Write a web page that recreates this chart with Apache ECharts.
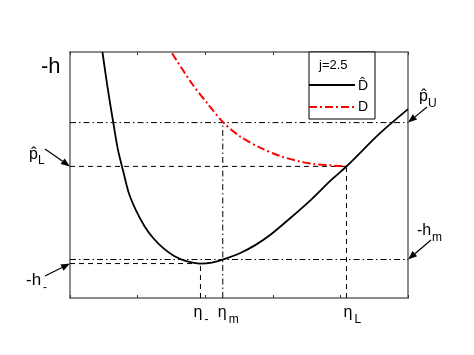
<!DOCTYPE html>
<html><head><meta charset="utf-8">
<script src="https://cdn.jsdelivr.net/npm/echarts@6/dist/echarts.min.js"></script>
<style>html,body{margin:0;padding:0;background:#fff}#c{width:474px;height:355px}</style>
</head><body><div id="c"></div>
<script>
// ---- data (arbitrary units: x in [0,5], y in [0,10]) ----
const curveHatX = [0.48, 0.55, 0.64, 0.71, 0.79, 0.87, 0.98, 1.10, 1.23, 1.38, 1.54, 1.72, 1.93, 2.10, 2.27, 2.52, 2.74, 2.96, 3.26, 3.56, 3.85, 4.09, 4.59, 5.00];
const curveHatY = [10.0, 8.66, 7.13, 6.02, 5.12, 4.27, 3.54, 2.93, 2.44, 2.03, 1.71, 1.50, 1.40, 1.44, 1.57, 1.83, 2.15, 2.56, 3.25, 3.98, 4.76, 5.35, 6.71, 7.68];
const curveDX = [1.51, 1.80, 2.03, 2.27, 2.52, 2.82, 3.11, 3.41, 3.60, 3.90, 4.09];
const curveDY = [9.95, 8.73, 7.92, 7.13, 6.56, 6.10, 5.77, 5.54, 5.45, 5.38, 5.35];
const levelNames = ['pU', 'pL', 'hm', 'hMinus'];
const levelValues = [7.13, 5.35, 1.565, 1.40];
const etaNames = ['etaMinus', 'etaM', 'etaL'];
const etaValues = [1.93, 2.26, 4.09];
const legendTitle = 'j=2.5';
const seriesNames = ['D\u0302', 'D'];
const xMin = 0, xMax = 5, yMin = 0, yMax = 10;

const lv = n => levelValues[levelNames.indexOf(n)];
const ev = n => etaValues[etaNames.indexOf(n)];
const zip = (a, b) => a.map((v, i) => [v, b[i]]);

const DASHDOT = [6, 3, 1.5, 3];
const DASH = [5, 4];
const FONT = '"Liberation Sans", Arial, sans-serif';

function refLine(pts, dash) {
  return {
    type: 'line', data: pts, symbol: 'none', silent: true, z: 1,
    lineStyle: { color: '#000', width: 1, type: dash }, animation: false
  };
}

const axisCommon = {
  type: 'value', min: xMin, max: xMax, interval: 1,
  axisLine: { show: true, onZero: false, lineStyle: { color: '#666', width: 1.5 } },
  axisTick: { show: true, inside: true, length: 3, lineStyle: { color: '#333', width: 1 } },
  axisLabel: { show: false }, splitLine: { show: false }
};
const yCommon = {
  type: 'value', min: yMin, max: yMax,
  axisLine: { show: true, onZero: false, lineStyle: { color: '#666', width: 1.5 } },
  axisTick: { show: false }, axisLabel: { show: false }, splitLine: { show: false }
};

const option = {
  backgroundColor: '#fff',
  animation: false,
  grid: { left: 70, right: 66, top: 52, bottom: 57 },
  xAxis: [Object.assign({ position: 'bottom' }, axisCommon), Object.assign({ position: 'top' }, axisCommon)],
  yAxis: [Object.assign({ position: 'left' }, yCommon), Object.assign({ position: 'right' }, yCommon)],
  series: [
    { name: seriesNames[0], type: 'line', data: zip(curveHatX, curveHatY), smooth: 0.3, symbol: 'none', z: 5,
      lineStyle: { color: '#000', width: 1.8 } },
    { name: seriesNames[1], type: 'line', data: zip(curveDX, curveDY), smooth: 0.3, symbol: 'none', z: 4,
      lineStyle: { color: '#ff0000', width: 2, type: [8, 3, 2, 3] } },
    refLine([[xMin, lv('pU')], [xMax, lv('pU')]], DASHDOT),
    refLine([[xMin, lv('pL')], [ev('etaL'), lv('pL')]], DASH),
    refLine([[xMin, lv('hm')], [xMax, lv('hm')]], DASHDOT),
    refLine([[xMin, lv('hMinus')], [ev('etaMinus'), lv('hMinus')]], DASH),
    refLine([[ev('etaMinus'), yMin], [ev('etaMinus'), lv('hMinus')]], DASH),
    refLine([[ev('etaM'), yMin], [ev('etaM'), lv('pU')]], DASHDOT),
    refLine([[ev('etaL'), yMin], [ev('etaL'), lv('pL')]], DASH)
  ]
};

const chart = echarts.init(document.getElementById('c'), null, { renderer: 'canvas' });
chart.setOption(option);

const P = (x, y) => chart.convertToPixel({ xAxisIndex: 0, yAxisIndex: 0 }, [x, y]);

function txt(t, x, y, size) {
  return { type: 'text', z: 100, style: { text: t, x: x, y: y, fill: '#000',
    font: size + 'px ' + FONT, textFont: size + 'px ' + FONT, fontSize: size, fontFamily: FONT,
    align: 'left', verticalAlign: 'middle', textAlign: 'left', textVerticalAlign: 'middle' } };
}
function arrow(x1, y1, x2, y2) {
  const a = Math.atan2(y2 - y1, x2 - x1), L = 9, W = 3.5;
  const dx = Math.cos(a), dy = Math.sin(a);
  const bx = x2 - L * dx, by = y2 - L * dy;
  return [
    { type: 'line', z: 100, shape: { x1: x1, y1: y1, x2: bx, y2: by }, style: { stroke: '#000', lineWidth: 1.2 } },
    { type: 'polygon', z: 100, shape: { points: [[x2, y2], [bx - W * dy, by + W * dx], [bx + W * dy, by - W * dx]] },
      style: { fill: '#000' } }
  ];
}

const pLTip = P(xMin, lv('pL'));
const hMinusTip = P(xMin, lv('hMinus'));
const pUTip = P(xMax, lv('pU'));
const hmTip = P(xMax, lv('hm'));
const bottomY = P(xMin, yMin)[1];
const eM = P(ev('etaMinus'), yMin)[0], eMm = P(ev('etaM'), yMin)[0], eL = P(ev('etaL'), yMin)[0];

const g = [];
// top-left axis title
g.push(txt('-h', 41, 67, 22));
// p_L
g.push(txt('p\u0302', 29, 155, 16), txt('L', 38, 161, 12));
g.push(...arrow(45, 149, pLTip[0], pLTip[1]));
// -h_-
g.push(txt('-h', 26, 280, 17), txt('-', 43, 288, 12));
g.push(...arrow(45, 276, hMinusTip[0], hMinusTip[1]));
// p_U
g.push(txt('p\u0302', pUTip[0] + 11, 97, 16), txt('U', pUTip[0] + 20, 104, 12));
g.push(...arrow(pUTip[0] + 19, 107, pUTip[0], pUTip[1]));
// -h_m
g.push(txt('-h', hmTip[0] + 9, 231, 16), txt('m', hmTip[0] + 24, 238, 12));
g.push(...arrow(hmTip[0] + 23, 240, hmTip[0], hmTip[1]));
// eta labels
const ey = bottomY + 15, sy = bottomY + 22;
g.push(txt('\u03b7', eM - 7, ey, 16), txt('-', eM + 4, sy, 12));
g.push(txt('\u03b7', eMm - 5, ey, 16), txt('m', eMm + 6, sy, 12));
g.push(txt('\u03b7', eL - 3, ey, 16), txt('L', eL + 8, sy, 12));
// legend box
g.push({ type: 'rect', z: 90, shape: { x: 309, y: 52, width: 66, height: 67 }, style: { fill: '#fff', stroke: '#000', lineWidth: 1 } });
g.push(txt(legendTitle, 319, 65, 13));
g.push({ type: 'line', z: 95, shape: { x1: 309, y1: 85, x2: 355, y2: 85 }, style: { stroke: '#000', lineWidth: 2 } });
g.push(txt(seriesNames[0], 358, 86, 14));
g.push({ type: 'line', z: 95, shape: { x1: 309, y1: 107, x2: 354, y2: 107 }, style: { stroke: '#ff0000', lineWidth: 2, lineDash: [8, 3, 2, 3] } });
g.push(txt(seriesNames[1], 358, 107, 14));

chart.setOption({ graphic: { elements: g } });
</script>
</body></html>
